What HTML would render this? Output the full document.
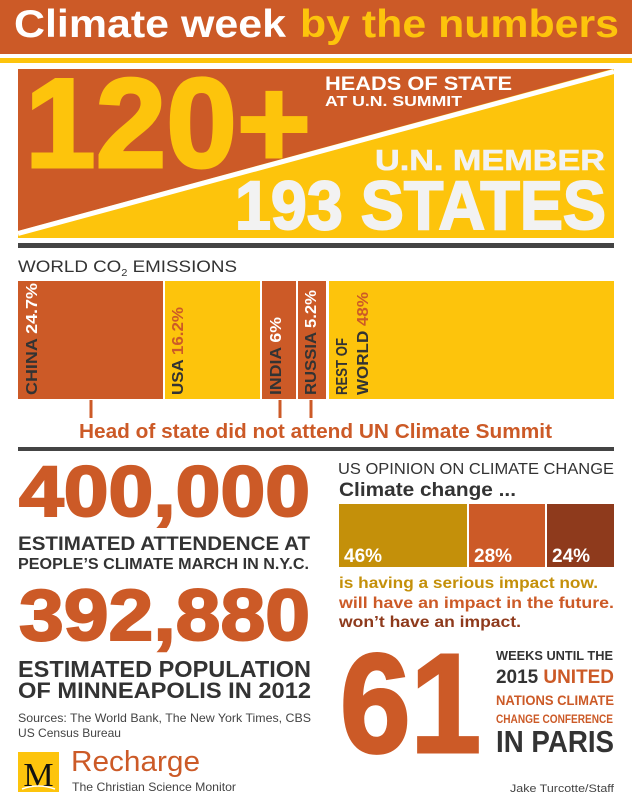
<!DOCTYPE html>
<html><head><meta charset="utf-8"><style>
html,body{margin:0;padding:0;background:#fff;width:632px;height:800px;overflow:hidden}
svg{display:block}
text{font-family:"Liberation Sans",sans-serif}
</style></head><body>
<svg width="632" height="800" viewBox="0 0 632 800" xmlns="http://www.w3.org/2000/svg">
<rect x="0" y="0" width="632" height="800" fill="#fff"/>
<!-- header -->
<rect x="0" y="0" width="632" height="54" fill="#cc5a27"/>
<text x="14" y="37" font-size="39" font-weight="bold" fill="#fff" textLength="272" lengthAdjust="spacingAndGlyphs">Climate week</text>
<text x="300" y="37" font-size="39" font-weight="bold" fill="#fdc40c" textLength="319" lengthAdjust="spacingAndGlyphs">by the numbers</text>
<rect x="0" y="58" width="632" height="5" fill="#fdc40c"/>
<!-- banner -->
<polygon points="18,69 614,69 614,238 18,238" fill="#fdc40c"/>
<polygon points="18,69 612,69 18,231" fill="#cc5a27"/>
<line x1="18" y1="233.5" x2="614" y2="71.5" stroke="#fff" stroke-width="5"/>
<text x="25" y="167" font-size="127" font-weight="bold" fill="#fdc40c" stroke="#fdc40c" stroke-width="3" textLength="286" lengthAdjust="spacingAndGlyphs">120+</text>
<text x="325" y="90" font-size="19" font-weight="bold" fill="#fff" textLength="187" lengthAdjust="spacingAndGlyphs">HEADS OF STATE</text>
<text x="325" y="106" font-size="14.5" font-weight="bold" fill="#fff" textLength="137" lengthAdjust="spacingAndGlyphs">AT U.N. SUMMIT</text>
<text x="375" y="170" font-size="29" font-weight="bold" fill="#f2f2f2" stroke="#f2f2f2" stroke-width="0.6" textLength="230" lengthAdjust="spacingAndGlyphs">U.N. MEMBER</text>
<text x="235" y="229" font-size="69" font-weight="bold" fill="#f2f2f2" stroke="#f2f2f2" stroke-width="2" textLength="371" lengthAdjust="spacingAndGlyphs">193 STATES</text>
<rect x="18" y="243" width="596" height="5" fill="#444"/>
<!-- CO2 -->
<text x="18" y="272" font-size="17" fill="#333" textLength="219" lengthAdjust="spacingAndGlyphs">WORLD CO<tspan font-size="10" dy="4">2</tspan><tspan dy="-4"> EMISSIONS</tspan></text>
<rect x="18" y="281" width="145" height="118" fill="#cc5a27"/>
<rect x="165" y="281" width="95" height="118" fill="#fdc40c"/>
<rect x="262" y="281" width="34" height="118" fill="#cc5a27"/>
<rect x="298" y="281" width="28" height="118" fill="#cc5a27"/>
<rect x="329" y="281" width="285" height="118" fill="#fdc40c"/>
<g font-size="16" font-weight="bold">
<text transform="translate(37,395) rotate(-90)" fill="#333" textLength="112" lengthAdjust="spacingAndGlyphs">CHINA <tspan fill="#fff">24.7%</tspan></text>
<text transform="translate(183,395) rotate(-90)" fill="#333" textLength="88" lengthAdjust="spacingAndGlyphs">USA <tspan fill="#cc5a27">16.2%</tspan></text>
<text transform="translate(281,395) rotate(-90)" fill="#333" textLength="78" lengthAdjust="spacingAndGlyphs">INDIA <tspan fill="#fff">6%</tspan></text>
<text transform="translate(316,395) rotate(-90)" fill="#333" textLength="105" lengthAdjust="spacingAndGlyphs">RUSSIA <tspan fill="#fff">5.2%</tspan></text>
<text transform="translate(347,395) rotate(-90)" fill="#333" textLength="57" lengthAdjust="spacingAndGlyphs">REST OF</text>
<text transform="translate(368,395) rotate(-90)" fill="#333" textLength="103" lengthAdjust="spacingAndGlyphs">WORLD <tspan fill="#cc5a27">48%</tspan></text>
</g>
<rect x="89.5" y="400" width="3" height="18" fill="#cc5a27"/>
<rect x="278.5" y="400" width="3" height="18" fill="#cc5a27"/>
<rect x="309.5" y="400" width="3" height="18" fill="#cc5a27"/>
<text x="79" y="438" font-size="20" font-weight="bold" fill="#cc5a27" textLength="473" lengthAdjust="spacingAndGlyphs">Head of state did not attend UN Climate Summit</text>
<rect x="18" y="447" width="596" height="4" fill="#444"/>
<!-- left column -->
<text x="19" y="516" font-size="71" font-weight="bold" fill="#cc5a27" stroke="#cc5a27" stroke-width="2" textLength="291" lengthAdjust="spacingAndGlyphs">400,000</text>
<text x="18" y="550" font-size="19" font-weight="bold" fill="#333" textLength="292" lengthAdjust="spacingAndGlyphs">ESTIMATED ATTENDENCE AT</text>
<text x="18" y="569" font-size="16" font-weight="bold" fill="#333" textLength="291" lengthAdjust="spacingAndGlyphs">PEOPLE’S CLIMATE MARCH IN N.Y.C.</text>
<text x="19" y="640" font-size="72" font-weight="bold" fill="#cc5a27" stroke="#cc5a27" stroke-width="2" textLength="291" lengthAdjust="spacingAndGlyphs">392,880</text>
<text x="18" y="677" font-size="23" font-weight="bold" fill="#333" textLength="293" lengthAdjust="spacingAndGlyphs">ESTIMATED POPULATION</text>
<text x="18" y="698" font-size="22" font-weight="bold" fill="#333" textLength="293" lengthAdjust="spacingAndGlyphs">OF MINNEAPOLIS IN 2012</text>
<text x="18" y="722" font-size="12" fill="#444" textLength="293" lengthAdjust="spacingAndGlyphs">Sources: The World Bank, The New York Times, CBS</text>
<text x="18" y="737" font-size="12" fill="#444" textLength="103" lengthAdjust="spacingAndGlyphs">US Census Bureau</text>
<rect x="18" y="752" width="41" height="40" fill="#fdc40c"/>
<text x="38.5" y="786" font-size="34" fill="#111" text-anchor="middle" style="font-family:'Liberation Serif',serif">M</text>
<path d="M22,789 Q38,783 55,789" stroke="#fff" stroke-width="1.5" fill="none"/>
<text x="71" y="771" font-size="29" fill="#cc5a27" textLength="129" lengthAdjust="spacingAndGlyphs">Recharge</text>
<text x="72" y="791" font-size="12" fill="#444" textLength="164" lengthAdjust="spacingAndGlyphs">The Christian Science Monitor</text>
<!-- right column -->
<text x="338" y="474" font-size="16" fill="#333" textLength="276" lengthAdjust="spacingAndGlyphs">US OPINION ON CLIMATE CHANGE</text>
<text x="339" y="496" font-size="19" font-weight="bold" fill="#333" textLength="177" lengthAdjust="spacingAndGlyphs">Climate change ...</text>
<rect x="339" y="504" width="128" height="63" fill="#c4900a"/>
<rect x="469" y="504" width="76" height="63" fill="#cc5a27"/>
<rect x="547" y="504" width="67" height="63" fill="#8e3a1c"/>
<g font-size="19" font-weight="bold" fill="#fff">
<text x="344" y="562">46%</text>
<text x="474" y="562">28%</text>
<text x="552" y="562">24%</text>
</g>
<g font-size="16" font-weight="bold">
<text x="339" y="588" fill="#c4900a" textLength="259" lengthAdjust="spacingAndGlyphs">is having a serious impact now.</text>
<text x="339" y="608" fill="#cc5a27" textLength="275" lengthAdjust="spacingAndGlyphs">will have an impact in the future.</text>
<text x="339" y="627" fill="#8e3a1c" textLength="182" lengthAdjust="spacingAndGlyphs">won’t have an impact.</text>
</g>
<text x="340" y="752" font-size="141" font-weight="bold" fill="#cc5a27" stroke="#cc5a27" stroke-width="3" textLength="141" lengthAdjust="spacingAndGlyphs">61</text>
<text x="496" y="660" font-size="13" font-weight="bold" fill="#333" textLength="117" lengthAdjust="spacingAndGlyphs">WEEKS UNTIL THE</text>
<text x="496" y="683" font-size="19" font-weight="bold" fill="#333" textLength="118" lengthAdjust="spacingAndGlyphs">2015 <tspan fill="#cc5a27">UNITED</tspan></text>
<text x="496" y="705" font-size="14" font-weight="bold" fill="#cc5a27" textLength="118" lengthAdjust="spacingAndGlyphs">NATIONS CLIMATE</text>
<text x="496" y="723" font-size="12" font-weight="bold" fill="#cc5a27" textLength="117" lengthAdjust="spacingAndGlyphs">CHANGE CONFERENCE</text>
<text x="496" y="752" font-size="31" font-weight="bold" fill="#333" textLength="118" lengthAdjust="spacingAndGlyphs">IN PARIS</text>
<text x="510" y="792" font-size="11" fill="#444" textLength="104" lengthAdjust="spacingAndGlyphs">Jake Turcotte/Staff</text>
</svg>
</body></html>
